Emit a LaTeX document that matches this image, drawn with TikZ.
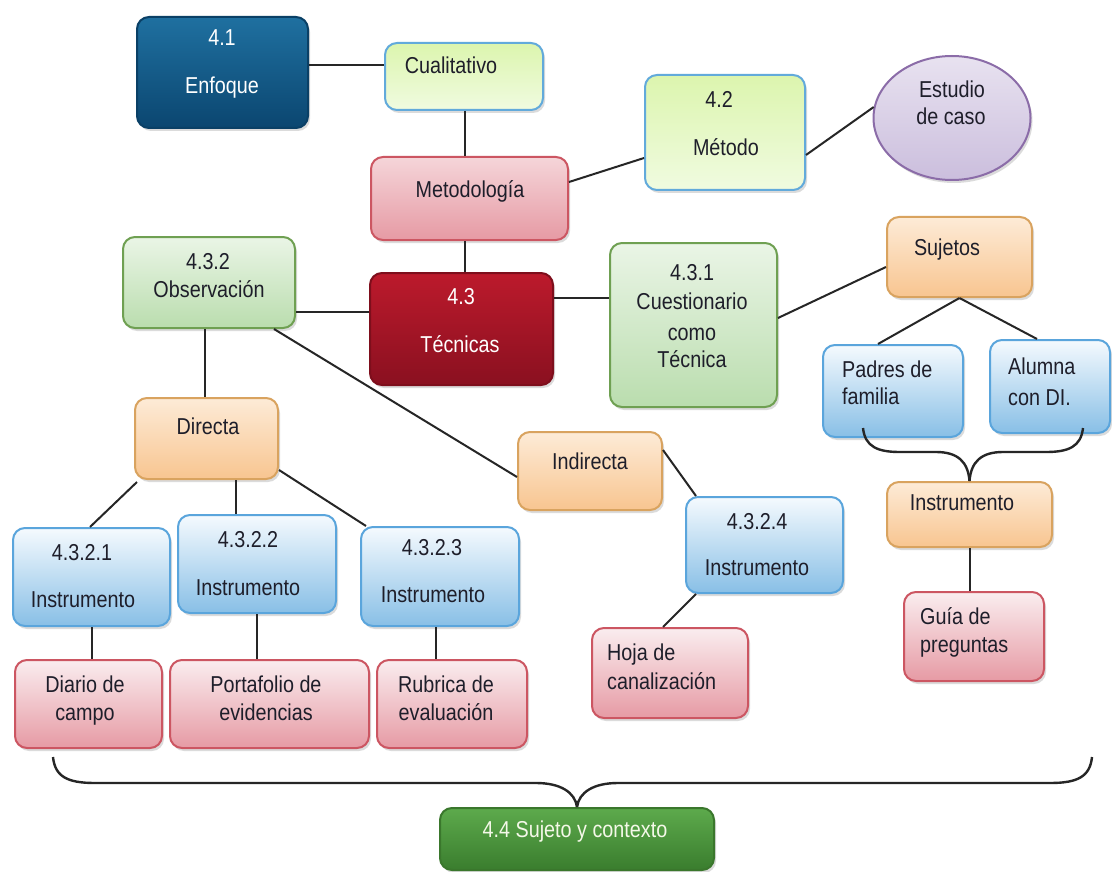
\documentclass[tikz,border=0pt]{standalone}
\usepackage{fontspec}
\setmainfont{Liberation Sans}[FakeStretch=0.86]
\usetikzlibrary{shapes.geometric,shadows,calc}

\definecolor{enfTop}{HTML}{1F70A0}
\definecolor{enfBot}{HTML}{0B4670}
\definecolor{enfLine}{HTML}{0A4066}
\definecolor{ygTop}{HTML}{DCF5AE}
\definecolor{ygBot}{HTML}{F0FBE0}
\definecolor{ygLine}{HTML}{62AADB}
\definecolor{pkTop}{HTML}{FAEDEF}
\definecolor{pkMid}{HTML}{F5D5D9}
\definecolor{pkBot}{HTML}{E69AA4}
\definecolor{pkLine}{HTML}{CC5662}
\definecolor{tecTop}{HTML}{BC1A2C}
\definecolor{tecBot}{HTML}{8A1020}
\definecolor{tecLine}{HTML}{7E0E1C}
\definecolor{grTop}{HTML}{EAF5E6}
\definecolor{grBot}{HTML}{BADDAE}
\definecolor{grLine}{HTML}{6FA052}
\definecolor{orTop}{HTML}{FDEBD7}
\definecolor{orBot}{HTML}{F8C590}
\definecolor{orLine}{HTML}{D9A35F}
\definecolor{blTop}{HTML}{F5FAFE}
\definecolor{blBot}{HTML}{88BFE6}
\definecolor{blLine}{HTML}{5AA5DC}
\definecolor{puTop}{HTML}{E8E2F0}
\definecolor{puBot}{HTML}{CBBEDD}
\definecolor{puLine}{HTML}{8B6CA8}
\definecolor{gTop}{HTML}{5DAA4C}
\definecolor{gBot}{HTML}{3A7D2E}
\definecolor{gLine}{HTML}{3A772C}
\definecolor{txtDark}{HTML}{1E1E2A}
\definecolor{txtLight}{HTML}{F4F8E8}

\begin{document}
\begin{tikzpicture}[x=1pt,y=-1pt,
  box/.style={rectangle, rounded corners=12pt, line width=2pt, inner sep=0pt,
    drop shadow={shadow xshift=2pt, shadow yshift=-3pt, opacity=0.28}},
  enfbox/.style={box, draw=enfLine, top color=enfTop, bottom color=enfBot},
  ygbox/.style={box, draw=ygLine, top color=ygTop, bottom color=ygBot},
  metbox/.style={box, draw=pkLine, top color=pkMid, bottom color=pkBot},
  pkbox/.style={box, draw=pkLine, top color=pkTop, bottom color=pkBot},
  tecbox/.style={box, draw=tecLine, top color=tecTop, bottom color=tecBot},
  grbox/.style={box, draw=grLine, top color=grTop, bottom color=grBot},
  orbox/.style={box, draw=orLine, top color=orTop, bottom color=orBot},
  blbox/.style={box, draw=blLine, top color=blTop, bottom color=blBot},
  gbox/.style={box, draw=gLine, top color=gTop, bottom color=gBot},
  pubox/.style={ellipse, line width=2pt, inner sep=0pt, draw=puLine,
    top color=puTop, bottom color=puBot,
    drop shadow={shadow xshift=2pt, shadow yshift=-3pt, opacity=0.28}},
  wire/.style={line width=2pt, draw=black!85},
  brace/.style={line width=2.4pt, draw=black!85, line join=round},
  tline/.style={font=\fontsize{23}{28}\selectfont, text=txtDark, inner sep=0pt,
    anchor=base, yshift=-7.5pt},
  tleft/.style={tline, anchor=base west},
  twhite/.style={tline, text=white},
]
\useasboundingbox (0,0) rectangle (1112,872);
\fill[white] (0,0) rectangle (1112,872);

% ---------- boxes ----------
\node[enfbox, minimum width=171pt, minimum height=111pt] (enf) at (222.5,72.5) {};
\node[ygbox,  minimum width=158pt, minimum height=67pt]  (cual) at (464,76.5) {};
\node[metbox, minimum width=197pt, minimum height=83pt]  (met) at (469.5,198.5) {};
\node[ygbox,  minimum width=160pt, minimum height=115pt] (metodo) at (725,132.5) {};
\node[pubox,  minimum width=157pt, minimum height=124pt] (est) at (952,118) {};
\node[tecbox, minimum width=183pt, minimum height=112pt] (tec) at (461.5,329) {};
\node[grbox,  minimum width=172pt, minimum height=91pt]  (obs) at (209,282.5) {};
\node[grbox,  minimum width=167pt, minimum height=164pt] (cues) at (693.5,325) {};
\node[orbox,  minimum width=145pt, minimum height=80pt]  (suj) at (959.5,257) {};
\node[blbox,  minimum width=140pt, minimum height=92pt]  (pad) at (893,391) {};
\node[blbox,  minimum width=120pt, minimum height=93pt]  (alu) at (1050,386.5) {};
\node[orbox,  minimum width=165pt, minimum height=65pt]  (ins) at (969.5,514.5) {};
\node[pkbox,  minimum width=140pt, minimum height=89pt]  (gui) at (974,636.5) {};
\node[orbox,  minimum width=144pt, minimum height=78pt]  (ind) at (590,471) {};
\node[blbox,  minimum width=157pt, minimum height=96pt]  (i4) at (764.5,545) {};
\node[pkbox,  minimum width=156pt, minimum height=90pt]  (hoja) at (670,673) {};
\node[orbox,  minimum width=143pt, minimum height=81pt]  (dir) at (206.5,438.5) {};
\node[blbox,  minimum width=157pt, minimum height=98pt]  (i1) at (91.5,577) {};
\node[blbox,  minimum width=158pt, minimum height=98pt]  (i2) at (257,564) {};
\node[blbox,  minimum width=158pt, minimum height=99pt]  (i3) at (440,576.5) {};
\node[pkbox,  minimum width=147pt, minimum height=88pt]  (dia) at (88.5,704) {};
\node[pkbox,  minimum width=199pt, minimum height=88pt]  (por) at (269.5,704) {};
\node[pkbox,  minimum width=150pt, minimum height=88pt]  (rub) at (452,704) {};
\node[gbox,   minimum width=274pt, minimum height=62pt]  (sc) at (577,839) {};

% ---------- connectors ----------
\draw[wire] ([yshift=7.5pt]enf.east) -- ([yshift=11.5pt]cual.west);
\draw[wire] ([xshift=1pt]cual.south) coordinate (c1) -- (c1 |- met.north);
\draw[wire] ([yshift=16.5pt]met.east) -- ([yshift=-25.5pt]metodo.west);
\draw[wire] ([yshift=-22.5pt]metodo.east) -- (est.172);
\draw[wire] ([xshift=-4.5pt]met.south) coordinate (c2) -- (c2 |- tec.north);
\draw[wire] ([yshift=-29.5pt]obs.east) coordinate (c3) -- (c3 -| tec.west);
\draw[wire] ([yshift=31pt]tec.east) coordinate (c4) -- (c4 -| cues.west);
\draw[wire] ([yshift=7pt]cues.east) -- ([yshift=-10pt]suj.west);
\draw[wire] (suj.south) -- ([xshift=-15pt]pad.north);
\draw[wire] (suj.south) -- ([xshift=-13pt]alu.north);
\draw[wire] (ins.south) -- (ins.south |- gui.north);
\draw[wire] ([xshift=-4pt]obs.south) coordinate (c5) -- (c5 |- dir.north);
\draw[wire] ([xshift=-22pt]obs.south east) -- ([yshift=-6pt]ind.west);
\draw[wire] ([yshift=21pt]ind.east) -- ([xshift=11pt]i4.north west);
\draw[wire] ([xshift=11pt]i4.south west) -- ([xshift=-7pt]hoja.north);
\draw[wire] ([xshift=3pt,yshift=-2pt]dir.south west) -- ([xshift=-1.5pt]i1.north);
\draw[wire] ([xshift=29.5pt]dir.south) coordinate (c6) -- (c6 |- i2.north);
\draw[wire] ([yshift=-31.5pt]dir.east) -- ([xshift=6pt]i3.north west);
\draw[wire] (i1.south) -- (i1.south |- dia.north);
\draw[wire] (i2.south) -- (i2.south |- por.north);
\draw[wire] ([xshift=-4pt]i3.south) coordinate (c7) -- (c7 |- rub.north);

% ---------- braces ----------
\coordinate (bpl) at (863,428);
\coordinate (bpr) at (1083,428);
\draw[brace] (bpl) .. controls (865,447) and (878,452) .. (900,452) -- (936,452)
  .. controls (958,452) and (968,462) .. (ins.north);
\draw[brace] (bpr) .. controls (1081,447) and (1068,452) .. (1046,452) -- (1003,452)
  .. controls (981,452) and (971,462) .. (ins.north);

\coordinate (bbl) at (53,757);
\coordinate (bbr) at (1092,757);
\draw[brace] (bbl) .. controls (55,777) and (68,783) .. (95,783) -- (536,783)
  .. controls (560,783) and (575,792) .. (sc.north);
\draw[brace] (bbr) .. controls (1090,777) and (1077,783) .. (1050,783) -- (618,783)
  .. controls (594,783) and (579,792) .. (sc.north);

% ---------- texts ----------
\node[twhite] (enf-a) at (222,38) {4.1};
\node[twhite] (enf-b) at (222,86) {Enfoque};
\node[tline] (cual-a) at (451,66) {Cualitativo};
\node[tline] (met-a) at (470,190) {Metodología};
\node[tline] (metodo-a) at (719,100) {4.2};
\node[tline] (metodo-b) at (726,148) {Método};
\node[tline] (est-a) at (952,90) {Estudio};
\node[tline] (est-b) at (951,117) {de caso};
\node[twhite] (tec-a) at (461,297) {4.3};
\node[twhite] (tec-b) at (460,345) {Técnicas};
\node[tline] (obs-a) at (208,262) {4.3.2};
\node[tline] (obs-b) at (209,290) {Observación};
\node[tline] (cues-a) at (692,273) {4.3.1};
\node[tline] (cues-b) at (692,302) {Cuestionario};
\node[tline] (cues-c) at (692,333) {como};
\node[tline] (cues-d) at (692,360) {Técnica};
\node[tline] (suj-a) at (947,248) {Sujetos};
\node[tleft] (pad-a) at (842,370) {Padres de};
\node[tleft] (pad-b) at (842,397) {familia};
\node[tleft] (alu-a) at (1008,367) {Alumna};
\node[tleft] (alu-b) at (1008,398) {con DI.};
\node[tline] (ins-a) at (962,503) {Instrumento};
\node[tleft] (gui-a) at (920,617) {Guía de};
\node[tleft] (gui-b) at (920,645) {preguntas};
\node[tline] (ind-a) at (590,462) {Indirecta};
\node[tline] (i4-a) at (757,522) {4.3.2.4};
\node[tline] (i4-b) at (757,568) {Instrumento};
\node[tleft] (hoja-a) at (607,653) {Hoja de};
\node[tleft] (hoja-b) at (607,682) {canalización};
\node[tline] (dir-a) at (208,427) {Directa};
\node[tline] (i1-a) at (82,553) {4.3.2.1};
\node[tline] (i1-b) at (83,600) {Instrumento};
\node[tline] (i2-a) at (248,540) {4.3.2.2};
\node[tline] (i2-b) at (248,588) {Instrumento};
\node[tline] (i3-a) at (432,548) {4.3.2.3};
\node[tline] (i3-b) at (433,595) {Instrumento};
\node[tline] (dia-a) at (85,685) {Diario de};
\node[tline] (dia-b) at (85,713) {campo};
\node[tline] (por-a) at (266,685) {Portafolio de};
\node[tline] (por-b) at (266,713) {evidencias};
\node[tline] (rub-a) at (446,685) {Rubrica de};
\node[tline] (rub-b) at (446,713) {evaluación};
\node[tline, text=txtLight] (sc-a) at (575,830) {4.4 Sujeto y contexto};
\end{tikzpicture}
\end{document}
